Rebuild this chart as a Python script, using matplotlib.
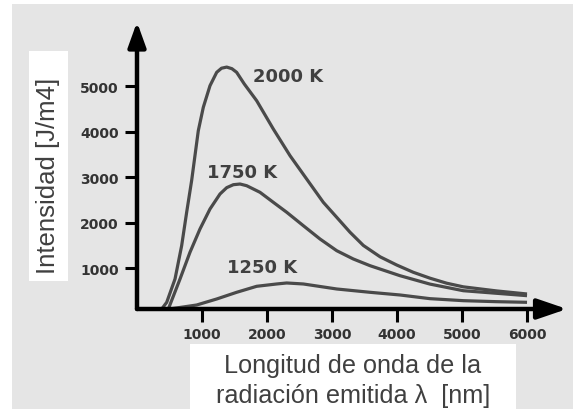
import matplotlib
matplotlib.use("Agg")
import matplotlib.pyplot as plt
from matplotlib.patches import Rectangle

# ---- data ----
wl_2000 = [380, 457, 585, 687, 764, 841, 943, 1020, 1123, 1226, 1300, 1380, 1460, 1533, 1650, 1841, 2097,
           2354, 2610, 2866, 3072, 3277, 3482, 3740, 3995, 4250, 4508, 4764, 5020, 5534, 6000]
int_2000 = [103, 250, 763, 1495, 2229, 2930, 4022, 4536, 5011, 5305, 5395, 5420, 5385, 5305, 5050, 4681, 4059,
            3473, 2960, 2448, 2119, 1790, 1500, 1250, 1070, 910, 780, 670, 590, 500, 433]

wl_1750 = [482, 662, 815, 969, 1123, 1277, 1380, 1482, 1585, 1687, 1892, 2097, 2303, 2559, 2815, 3072,
           3328, 3585, 4046, 4508, 5020, 5534, 6000]
int_1750 = [103, 763, 1349, 1862, 2301, 2631, 2770, 2835, 2850, 2813, 2668, 2448, 2229, 1934, 1642, 1385,
            1202, 1055, 835, 650, 505, 448, 396]

wl_1250 = [500, 918, 1226, 1533, 1841, 2149, 2303, 2559, 3072, 3585, 4046, 4508, 5020, 5534, 6000]
int_1250 = [103, 191, 323, 470, 602, 653, 675, 653, 543, 470, 411, 330, 286, 264, 250]

curve_labels = ["2000 K", "1750 K", "1250 K"]
x_ticks = [1000, 2000, 3000, 4000, 5000, 6000]
y_ticks = [1000, 2000, 3000, 4000, 5000]
x_label = "Longitud de onda de la\nradiación emitida λ  [nm]"
y_label = "Intensidad [J/m4]"

W, H = 573, 410
fig = plt.figure(figsize=(W / 100, H / 100), dpi=100)
fig.patch.set_facecolor("white")

# gray panel
fig.patches.append(Rectangle((12 / W, 0), 1 - 12 / W, (H - 5) / H, transform=fig.transFigure,
                             facecolor="#e5e5e5", edgecolor="none", zorder=0))
# white label boxes
fig.patches.append(Rectangle((29 / W, (H - 282) / H), 39 / W, 230 / H, transform=fig.transFigure,
                             facecolor="white", edgecolor="none", zorder=1))
fig.patches.append(Rectangle((190 / W, 0), 326 / W, (H - 345) / H, transform=fig.transFigure,
                             facecolor="white", edgecolor="none", zorder=1))

ax = fig.add_axes([137 / W, (H - 310) / H, (567 - 137) / W, (310 - 23) / H])
ax.set_zorder(5)
ax.set_facecolor("none")
ax.set_xlim(0, 6615)
ax.set_ylim(103, 6411)

curve_color = "#4a4a4a"
for wl, inten in [(wl_2000, int_2000), (wl_1750, int_1750), (wl_1250, int_1250)]:
    ax.plot(wl, inten, color=curve_color, lw=2.3, solid_joinstyle="round", solid_capstyle="butt",
            clip_on=False, zorder=3)

label_pos = [(1785, 5224), (1077, 3114), (1385, 1026)]
for txt, (lx, ly) in zip(curve_labels, label_pos):
    ax.text(lx, ly, txt, fontsize=13, fontweight="bold", family="DejaVu Sans",
            color="#404040", ha="left", va="center", zorder=4)

for s in ["top", "right", "left", "bottom"]:
    ax.spines[s].set_visible(False)

# axes with arrows
ax.annotate("", xy=(0, 1), xycoords="axes fraction", xytext=(0, 0),
            arrowprops=dict(arrowstyle="-|>,head_length=1.0,head_width=0.36", lw=3.2, color="black",
                            shrinkA=0, shrinkB=0, mutation_scale=15), zorder=5)
ax.annotate("", xy=(1, 0), xycoords="axes fraction", xytext=(0, 0),
            arrowprops=dict(arrowstyle="-|>,head_length=1.2,head_width=0.41", lw=3.2, color="black",
                            shrinkA=0, shrinkB=0, mutation_scale=15), zorder=5)

ax.set_xticks(x_ticks)
ax.set_yticks(y_ticks)
ax.set_xticklabels([str(v) for v in x_ticks])
ax.set_yticklabels([str(v) for v in y_ticks])
ax.tick_params(axis="both", direction="out", length=9, width=2.2, color="black",
               labelsize=10, labelcolor="#333333")
ax.tick_params(axis="x", pad=4)
ax.tick_params(axis="y", pad=4)
for lab in ax.get_xticklabels() + ax.get_yticklabels():
    lab.set_fontweight("bold")
    lab.set_family("DejaVu Sans")

fig.text(48.5 / W, (H - 176) / H, y_label, rotation=90, ha="center", va="center",
         fontsize=18.5, family="Liberation Sans", color="#404040", zorder=2)
fig.text(353 / W, (H - 381) / H, x_label, ha="center", va="center", linespacing=1.35,
         fontsize=18.2, family="Liberation Sans", color="#404040", zorder=2)

fig.savefig("out.png", dpi=100, facecolor=fig.get_facecolor())
